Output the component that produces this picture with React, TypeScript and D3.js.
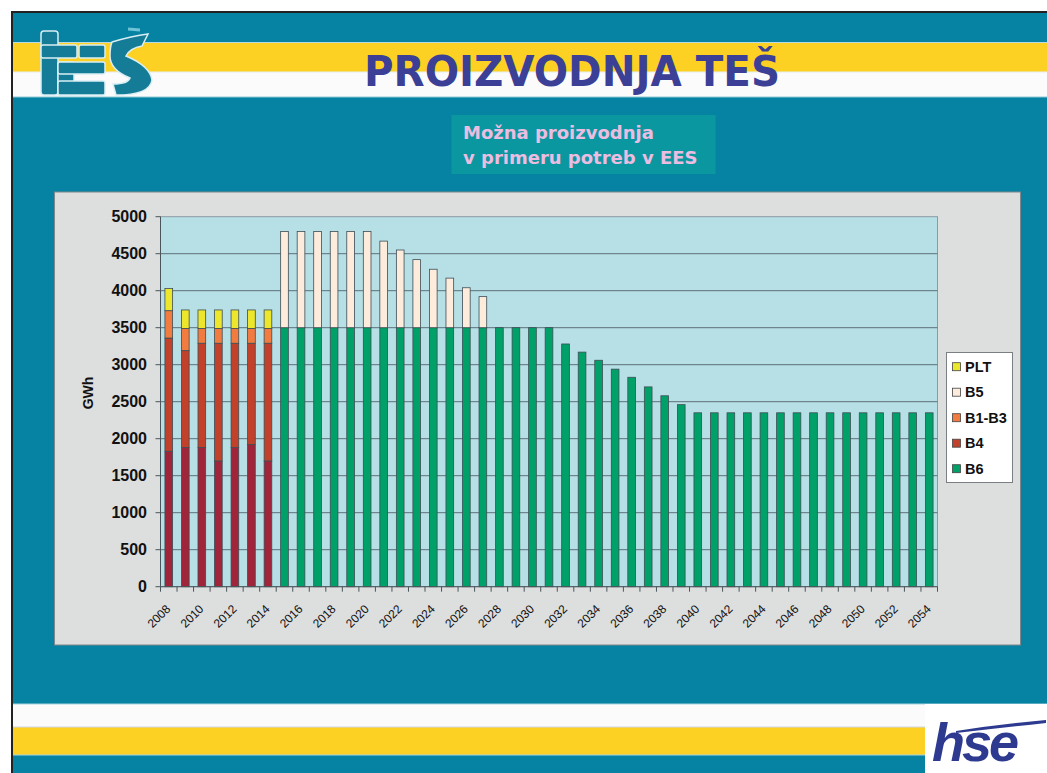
import React from "react";
import * as d3 from "d3";

// categories
const years = [
  "2008", "2009", "2010", "2011", "2012", "2013", "2014", "2015", "2016", "2017",
  "2018", "2019", "2020", "2021", "2022", "2023", "2024", "2025", "2026", "2027",
  "2028", "2029", "2030", "2031", "2032", "2033", "2034", "2035", "2036", "2037",
  "2038", "2039", "2040", "2041", "2042", "2043", "2044", "2045", "2046", "2047",
  "2048", "2049", "2050", "2051", "2052", "2053", "2054",
];

// series values in GWh, stacked bottom -> top
const b6 = [
  1830, 1880, 1880, 1700, 1880, 1920, 1700,
  3500, 3500, 3500, 3500, 3500, 3500, 3500, 3500, 3500, 3500, 3500, 3500, 3500,
  3500, 3500, 3500, 3500,
  3280, 3170, 3060, 2940, 2830, 2700, 2580, 2460,
  2350, 2350, 2350, 2350, 2350, 2350, 2350, 2350, 2350, 2350, 2350, 2350, 2350, 2350, 2350,
];
const b4 = [
  1530, 1310, 1410, 1590, 1410, 1370, 1590,
  0, 0, 0, 0, 0, 0, 0, 0, 0, 0, 0, 0, 0, 0, 0, 0, 0, 0, 0, 0, 0, 0, 0,
  0, 0, 0, 0, 0, 0, 0, 0, 0, 0, 0, 0, 0, 0, 0, 0, 0,
];
const b1b3 = [
  370, 300, 200, 200, 200, 200, 200,
  0, 0, 0, 0, 0, 0, 0, 0, 0, 0, 0, 0, 0, 0, 0, 0, 0, 0, 0, 0, 0, 0, 0,
  0, 0, 0, 0, 0, 0, 0, 0, 0, 0, 0, 0, 0, 0, 0, 0, 0,
];
const b5 = [
  0, 0, 0, 0, 0, 0, 0,
  1300, 1300, 1300, 1300, 1300, 1300, 1170, 1050, 920, 790, 670, 540, 420,
  0, 0, 0, 0, 0, 0, 0, 0, 0, 0, 0, 0, 0, 0, 0, 0, 0, 0, 0, 0, 0, 0, 0, 0, 0, 0, 0,
];
const plt = [
  300, 250, 250, 250, 250, 250, 250,
  0, 0, 0, 0, 0, 0, 0, 0, 0, 0, 0, 0, 0, 0, 0, 0, 0, 0, 0, 0, 0, 0, 0,
  0, 0, 0, 0, 0, 0, 0, 0, 0, 0, 0, 0, 0, 0, 0, 0, 0,
];

const yTicks = [0, 500, 1000, 1500, 2000, 2500, 3000, 3500, 4000, 4500, 5000];
const legendKeys = ["PLT", "B5", "B1-B3", "B4", "B6"];
const stackKeys = ["B6", "B4", "B1-B3", "B5", "PLT"];

const colors: Record<string, string> = {
  PLT: "#ece62c",
  B5: "#fdebdc",
  "B1-B3": "#f27c40",
  B4: "#c1412b",
  B6: "#00a169",
};
const earlyB6 = "#a1253a";

const W = 1047;
const H = 773;
const teal = "#0682a3";
const yellow = "#fdd123";
const font = "'Liberation Sans', Arial, sans-serif";

const plot = { left: 160.5, right: 937.5, top: 216.7, bottom: 586.7 };

const App = () => {
  const rows = years.map((yr, i) => ({
    year: yr,
    B6: b6[i],
    B4: b4[i],
    "B1-B3": b1b3[i],
    B5: b5[i],
    PLT: plt[i],
  }));
  const series = d3.stack<any>().keys(stackKeys)(rows);

  const x = d3
    .scaleBand<string>()
    .domain(years)
    .range([plot.left, plot.right])
    .paddingInner(0.535)
    .paddingOuter(0.2675);
  const step = x.step();
  const y = d3.scaleLinear().domain([0, 5000]).range([plot.bottom, plot.top]);

  return (
    <svg
      width={W}
      height={H}
      style={{ position: "absolute", left: 0, top: 0 }}
      fontFamily={font}
    >
      <rect width={W} height={H} fill="#ffffff" />
      {/* slide background */}
      <rect x={12} y={12} width={W - 12} height={H - 12} fill={teal} />
      {/* header bands */}
      <rect x={13} y={43} width={W} height={29} fill={yellow} />
      <rect x={13} y={72} width={W} height={25} fill="#fbfbfb" />
      <line x1={13} x2={W} y1={42.5} y2={42.5} stroke="#b9dbe4" />
      <line x1={13} x2={W} y1={72} y2={72} stroke="#e8eef2" />
      <line x1={13} x2={W} y1={97} y2={97} stroke="#8ec6d6" />
      {/* footer bands */}
      <rect x={13} y={704} width={W} height={23} fill="#fbfbfb" />
      <rect x={13} y={727} width={912} height={28} fill={yellow} />
      <line x1={13} x2={925} y1={727} y2={727} stroke="#d3d6e8" />
      <line x1={13} x2={925} y1={755} y2={755} stroke="#a9d3de" />
      <line x1={13} x2={W} y1={704} y2={704} stroke="#a9d3de" />
      <rect x={925} y={704} width={W - 925} height={H - 704} fill="#ffffff" />
      {/* frame */}
      <path d={`M12,${H} V12 H${W}`} fill="none" stroke="#222" strokeWidth={2} />

      {/* TEŠ logo */}
      <g fill="#157c97" stroke="#d9eef4" strokeWidth={1.5}>
        <rect x={41} y={31} width={17} height={64} rx={3} />
        <rect x={41} y={45} width={36} height={13} rx={2} />
        <rect x={58} y={62} width={16} height={33} rx={2} />
        <rect x={58} y={62} width={47} height={12} rx={2} />
        <rect x={58} y={81} width={47} height={14} rx={2} />
        <rect x={79} y={45} width={26} height={13} rx={2} />
        <path d="M112,42 Q132,36 148,34 L142,46 Q130,48 126,56 Q150,66 152,80 Q150,95 116,95 L113,84 Q128,84 130,78 Q110,70 110,56 Q110,47 112,42 Z" />
      </g>
      <path d="M128,29 L140,30" stroke="#6fc3d6" strokeWidth={3} />

      <text
        x={572}
        y={86}
        textAnchor="middle"
        fontFamily="'DejaVu Sans Condensed', 'DejaVu Sans', sans-serif"
        fontWeight="bold"
        fontSize={42}
        fill="#3b3f96"
        textLength={416}
        lengthAdjust="spacingAndGlyphs"
      >
        PROIZVODNJA TEŠ
      </text>

      {/* subtitle box */}
      <rect x={451.5} y={115} width={264} height={59} fill="#0a97a0" />
      <g
        fontFamily="'DejaVu Sans', Verdana, sans-serif"
        fontWeight="bold"
        fontSize={18}
        fill="#ecbde0"
      >
        <text x={463} y={138.5}>Možna proizvodnja</text>
        <text x={463} y={163.5}>v primeru potreb v EES</text>
      </g>

      {/* chart area */}
      <rect x={54.5} y={192} width={966} height={453} fill="#dddede" stroke="#7f878c" />
      <rect
        x={plot.left}
        y={plot.top}
        width={plot.right - plot.left}
        height={plot.bottom - plot.top}
        fill="#b6e0e5"
        stroke="#8b9ba2"
      />
      {yTicks.slice(1, -1).map((t) => (
        <line
          key={t}
          x1={plot.left}
          x2={plot.right}
          y1={y(t)}
          y2={y(t)}
          stroke="#5f7079"
          strokeWidth={1}
        />
      ))}

      {/* bars */}
      {series.map((s) => (
        <g key={s.key}>
          {s.map((d, i) =>
            d[1] - d[0] > 0 ? (
              <rect
                key={i}
                x={x(years[i])}
                y={y(d[1])}
                width={x.bandwidth()}
                height={y(d[0]) - y(d[1])}
                fill={s.key === "B6" && +years[i] < 2015 ? earlyB6 : colors[s.key]}
                stroke="#3e4d55"
                strokeWidth={0.8}
              />
            ) : null
          )}
        </g>
      ))}

      {/* y axis */}
      <line x1={plot.left} x2={plot.left} y1={plot.top} y2={plot.bottom} stroke="#4a555b" />
      {yTicks.map((t) => (
        <g key={t}>
          <line x1={plot.left - 5} x2={plot.left} y1={y(t)} y2={y(t)} stroke="#4a555b" />
          <text
            x={147}
            y={y(t)}
            dy="0.36em"
            textAnchor="end"
            fontWeight="bold"
            fontSize={16}
            fill="#111"
          >
            {t}
          </text>
        </g>
      ))}
      <text
        transform="translate(93,393) rotate(-90)"
        textAnchor="middle"
        fontWeight="bold"
        fontSize={14}
        fill="#111"
      >
        GWh
      </text>

      {/* x axis */}
      <line x1={plot.left} x2={plot.right} y1={plot.bottom} y2={plot.bottom} stroke="#4a555b" />
      {years.map((yr, i) => (
        <line
          key={yr}
          x1={plot.left + i * step}
          x2={plot.left + i * step}
          y1={plot.bottom}
          y2={plot.bottom + 5}
          stroke="#4a555b"
        />
      ))}
      <line x1={plot.right} x2={plot.right} y1={plot.bottom} y2={plot.bottom + 5} stroke="#4a555b" />
      {years.map((yr, i) =>
        i % 2 === 0 ? (
          <text
            key={yr}
            transform={`translate(${(x(yr) as number) + x.bandwidth() / 2 + 2.5},${plot.bottom + 23}) rotate(-45)`}
            textAnchor="end"
            fontSize={12}
            fill="#111"
          >
            {yr}
          </text>
        ) : null
      )}

      {/* legend */}
      <rect x={946.5} y={352.5} width={66} height={130} fill="#ffffff" stroke="#7a7f83" />
      {legendKeys.map((k, i) => {
        const cy = 366.7 + i * 25.5;
        return (
          <g key={k}>
            <rect x={952.5} y={cy - 4} width={8} height={8} fill={colors[k]} stroke="#444" strokeWidth={0.8} />
            <text x={965} y={cy} dy="0.36em" fontWeight="bold" fontSize={14.5} fill="#111">
              {k}
            </text>
          </g>
        );
      })}

      {/* hse logo */}
      <path d="M956,731 Q1000,724 1046,720 L1046,723 Q1000,728 956,733 Z" fill="#2d3a8f" />
      <text
        x={932}
        y={761}
        fontFamily="'Liberation Sans', Arial, sans-serif"
        fontWeight="bold"
        fontStyle="italic"
        fontSize={54}
        fill="#2d3a8f"
        letterSpacing={-3}
      >
        hse
      </text>
    </svg>
  );
};

export default App;
